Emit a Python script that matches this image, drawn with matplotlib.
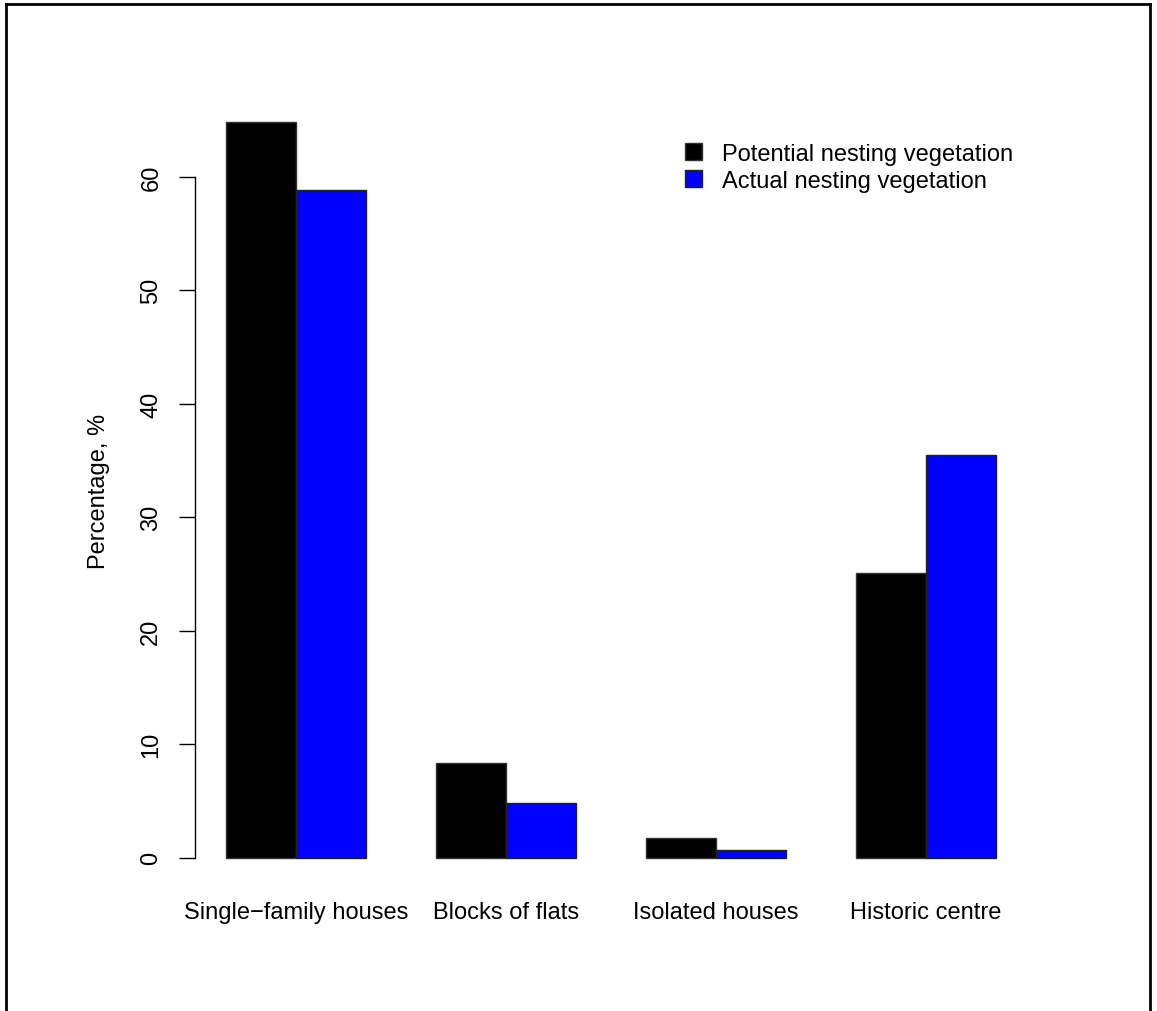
import numpy as np
import matplotlib.pyplot as plt
from matplotlib.patches import Patch
from matplotlib.lines import Line2D

categories = ["Single\u2212family houses", "Blocks of flats", "Isolated houses", "Historic centre"]
potential = [64.8, 8.3, 1.7, 25.1]
actual = [58.8, 4.8, 0.7, 35.5]
series_names = ["Potential nesting vegetation", "Actual nesting vegetation"]
y_ticks = [0, 10, 20, 30, 40, 50, 60]

plt.rcParams['font.family'] = ['Liberation Sans', 'DejaVu Sans']
fs = 17

fig = plt.figure(figsize=(11.57, 10.12), dpi=100)
ax = fig.add_axes([0.1685, 0.1225, 0.7191, 0.7846])

# R-style beside barplot: groups start at 1, 4, 7, 10
starts = np.arange(len(categories)) * 3 + 1
ax.bar(starts, potential, width=1, align='edge', color='black', edgecolor='#333333', linewidth=1)
ax.bar(starts + 1, actual, width=1, align='edge', color='#0000ff', edgecolor='#222222', linewidth=1)

ymax = max(max(potential), max(actual))
ax.set_xlim(1 - 0.04 * 11, 12 + 0.04 * 11)
ax.set_ylim(-0.04 * ymax, ymax * 1.04)

for s in ['top', 'right', 'bottom']:
    ax.spines[s].set_visible(False)
ax.spines['left'].set_bounds(0, 60)
ax.spines['left'].set_linewidth(1)
ax.set_yticks(y_ticks)
ax.set_yticklabels([str(t) for t in y_ticks], rotation=90, va='center', fontsize=fs)
ax.tick_params(axis='y', length=11.5, width=1, pad=12)
ax.set_xticks(starts + 1)
ax.set_xticklabels(categories, fontsize=fs)
ax.tick_params(axis='x', length=0, pad=10)
ax.set_ylabel("Percentage, %", fontsize=fs, labelpad=22)

handles = [Patch(facecolor='black', edgecolor='#333333'), Patch(facecolor='#0000ff', edgecolor='#222222')]
ax.legend(handles, series_names, loc='upper left', bbox_to_anchor=(0.563, 0.964), frameon=False,
          fontsize=fs, handlelength=0.75, handleheight=0.75, handletextpad=0.85, labelspacing=0.2)

# outer box (left, top, right edges)
fig.add_artist(Line2D([0.005, 0.005], [0, 0.995], color='black', lw=2, transform=fig.transFigure))
fig.add_artist(Line2D([0.005, 0.994], [0.995, 0.995], color='black', lw=2, transform=fig.transFigure))
fig.add_artist(Line2D([0.994, 0.994], [0, 0.995], color='black', lw=2, transform=fig.transFigure))

fig.savefig("out.png", dpi=100)
